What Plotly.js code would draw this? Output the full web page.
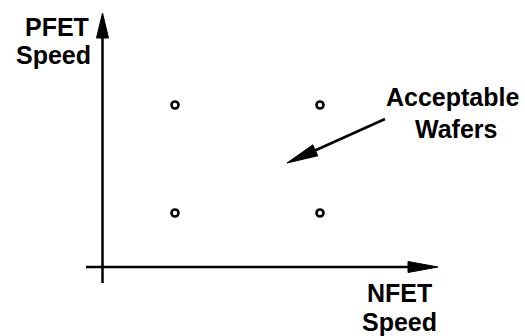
<!DOCTYPE html>
<html>
<head>
<meta charset="utf-8">
<script src="https://cdn.plot.ly/plotly-3.0.1.min.js"></script>
<style>html,body{margin:0;padding:0;background:#fff;}#chart{width:525px;height:336px;}</style>
</head>
<body>
<div id="chart"></div>
<script>
// Data: four corner wafers (NFET speed, PFET speed), arbitrary units
const nfetSpeed = [1, 3, 1, 3];
const pfetSpeed = [3, 3, 1, 1];
const xAxisLabel = ["NFET", "Speed"];
const yAxisLabel = ["PFET", "Speed"];
const calloutLabel = ["Acceptable", "Wafers"];

// Layout geometry (pixel scale of the drawing)
const W = 525, H = 336;
const X0 = 102.5, XU = 72.5;   // pixel of x=0, pixels per unit
const Y0 = 267, YU = 54;       // pixel of y=0, pixels per unit
const xr = [(0 - X0) / XU, (W - X0) / XU];
const yr = [(Y0 - H) / YU, (Y0 - 0) / YU];
// convert pixel position to data coordinates (for decorations only)
const dx = px => (px - X0) / XU;
const dy = py => (Y0 - py) / YU;

function arrowHead(tipX, tipY, fromX, fromY, len, half) {
  const vx = tipX - fromX, vy = tipY - fromY;
  const L = Math.hypot(vx, vy), ux = vx / L, uy = vy / L;
  const bx = tipX - ux * len, by = tipY - uy * len;
  const nx = -uy, ny = ux;
  const p1 = [bx + nx * half, by + ny * half], p2 = [bx - nx * half, by - ny * half];
  return 'M' + dx(tipX) + ',' + dy(tipY) + ' L' + dx(p1[0]) + ',' + dy(p1[1]) +
         ' L' + dx(p2[0]) + ',' + dy(p2[1]) + ' Z';
}

const lineStyle = {color: '#000', width: 2.5};
const shapes = [
  // x axis
  {type: 'line', xref: 'x', yref: 'y', x0: dx(86), y0: 0, x1: dx(415), y1: 0, line: lineStyle},
  {type: 'path', xref: 'x', yref: 'y', path: arrowHead(438, Y0, 86, Y0, 30, 5.5), fillcolor: '#000', line: {color: '#000', width: 1}},
  // y axis
  {type: 'line', xref: 'x', yref: 'y', x0: 0, y0: dy(283), x1: 0, y1: dy(35), line: lineStyle},
  {type: 'path', xref: 'x', yref: 'y', path: arrowHead(X0, 13, X0, 283, 25, 6), fillcolor: '#000', line: {color: '#000', width: 1}},
  // callout arrow
  {type: 'line', xref: 'x', yref: 'y', x0: dx(385), y0: dy(119), x1: dx(305), y1: dy(155), line: lineStyle},
  {type: 'path', xref: 'x', yref: 'y', path: arrowHead(287, 163, 385, 119, 31, 6), fillcolor: '#000', line: {color: '#000', width: 1}}
];

const font = {family: 'Liberation Sans, Arial, sans-serif', size: 25, color: '#000', weight: 'bold'};
function label(text, px, py, xanchor) {
  return {xref: 'x', yref: 'y', x: dx(px), y: dy(py), text: '<b>' + text + '</b>', showarrow: false,
          xanchor: xanchor, yanchor: 'middle', font: font, borderpad: 0, borderwidth: 0};
}
const annotations = [
  label(yAxisLabel[0], 89, 27, 'right'),
  label(yAxisLabel[1], 91, 55, 'right'),
  label(xAxisLabel[0], 399, 293, 'center'),
  label(xAxisLabel[1], 399, 321.5, 'center'),
  label(calloutLabel[0], 452.5, 97, 'center'),
  label(calloutLabel[1], 455.5, 129, 'center')
];

const trace = {
  x: nfetSpeed, y: pfetSpeed, type: 'scatter', mode: 'markers',
  marker: {symbol: 'circle', size: 7, color: '#fff', line: {width: 2.6, color: '#000'}},
  hoverinfo: 'skip', showlegend: false
};

const layout = {
  width: W, height: H,
  margin: {l: 0, r: 0, t: 0, b: 0, pad: 0},
  paper_bgcolor: '#fff', plot_bgcolor: '#fff',
  xaxis: {range: xr, visible: false, fixedrange: true},
  yaxis: {range: yr, visible: false, fixedrange: true},
  shapes: shapes, annotations: annotations, showlegend: false
};
Plotly.newPlot('chart', [trace], layout, {staticPlot: true, displayModeBar: false});
</script>
</body>
</html>
